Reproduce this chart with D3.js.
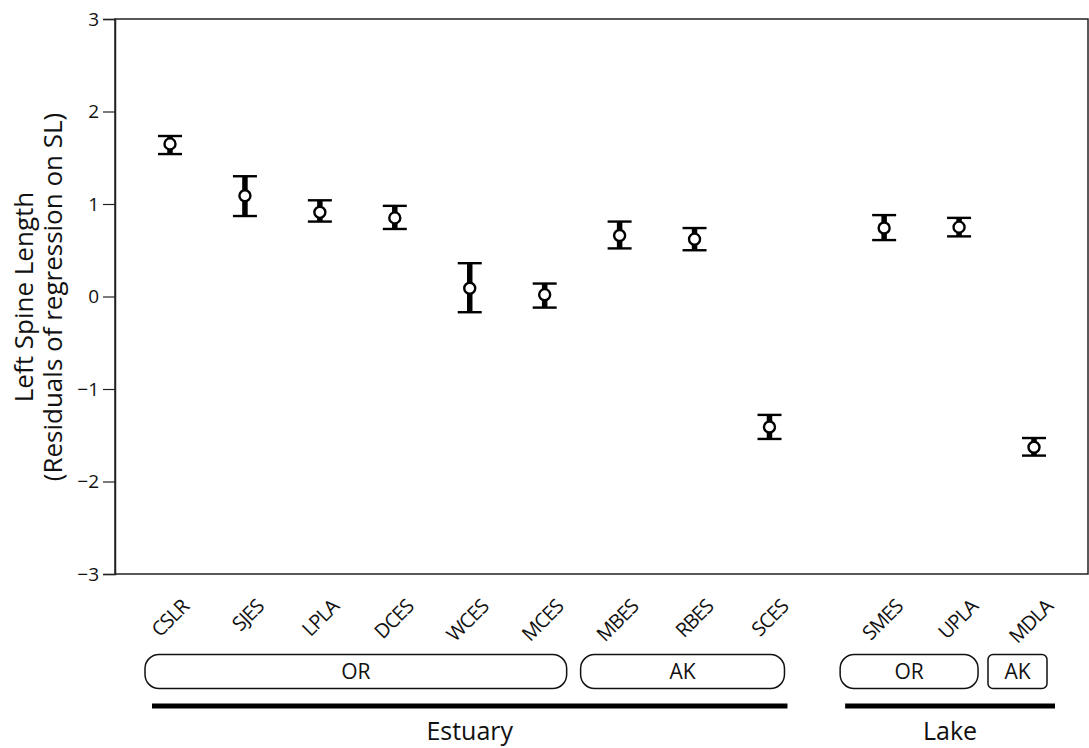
<!DOCTYPE html>
<html><head><meta charset="utf-8">
<script src="https://cdn.jsdelivr.net/npm/d3@7"></script>
<style>body{margin:0;background:#fff}svg{display:block}text{font-family:"Open Sans","DejaVu Sans",sans-serif;fill:#111}</style>
</head><body><svg id="c" width="1089" height="748"></svg>
<script>
const sites = ["CSLR","SJES","LPLA","DCES","WCES","MCES","MBES","RBES","SCES","SMES","UPLA","MDLA"];
const habitat = ["Estuary","Estuary","Estuary","Estuary","Estuary","Estuary","Estuary","Estuary","Estuary","Lake","Lake","Lake"];
const region = ["OR","OR","OR","OR","OR","OR","AK","AK","AK","OR","OR","AK"];
const means = [1.65,1.09,0.91,0.85,0.09,0.02,0.66,0.62,-1.41,0.74,0.75,-1.63];
const upper = [1.735,1.30,1.04,0.98,0.36,0.14,0.81,0.74,-1.28,0.88,0.85,-1.53];
const lower = [1.54,0.87,0.81,0.73,-0.17,-0.12,0.52,0.50,-1.54,0.61,0.65,-1.72];
const yTicks = [-3,-2,-1,0,1,2,3];

const svg = d3.select("#c");
const plot = {l:115, r:1088, t:19, b:574};
const gapSlots = 0.53;
const slots = sites.map((s,i)=> i + (habitat[i]==="Lake" ? gapSlots : 0));
const x = d3.scaleLinear().domain([0, d3.max(slots)]).range([170, 1034]);
const y = d3.scaleLinear().domain([-3,3]).range([plot.b, plot.t]);

// frame
svg.append("rect").attr("x",plot.l).attr("y",plot.t).attr("width",plot.r-plot.l).attr("height",plot.b-plot.t)
  .attr("fill","none").attr("stroke","#222").attr("stroke-width",1.5);

// y axis
const ax = svg.append("g").attr("transform",`translate(${plot.l},0)`)
  .call(d3.axisLeft(y).tickValues(yTicks).tickSize(12).tickPadding(4).tickFormat(d=> d<0 ? "\u2212"+Math.abs(d) : d));
ax.attr("font-size",19).attr("font-family","'Open Sans',sans-serif");
ax.select(".domain").attr("stroke","#222").attr("stroke-width",1.5);
ax.selectAll(".tick line").attr("stroke","#222").attr("stroke-width",1.2);
ax.selectAll(".tick text").style("font-size","19px").attr("fill","#111");

// y title
const yt = svg.append("text").attr("transform","translate(0,297) rotate(-90)").attr("text-anchor","middle").style("font-size","26px");
yt.append("tspan").attr("x",0).attr("y",33).text("Left Spine Length");
yt.append("tspan").attr("x",0).attr("y",62).text("(Residuals of regression on SL)");

// error bars
const g = svg.append("g");
const capW = 12;
sites.forEach((s,i)=>{
  const cx = x(slots[i]);
  g.append("line").attr("x1",cx).attr("x2",cx).attr("y1",y(upper[i])).attr("y2",y(lower[i]))
    .attr("stroke","#000").attr("stroke-width",5.5);
  [upper[i],lower[i]].forEach(v=>{
    g.append("line").attr("x1",cx-capW).attr("x2",cx+capW).attr("y1",y(v)).attr("y2",y(v))
      .attr("stroke","#000").attr("stroke-width",2.4);
  });
  g.append("circle").attr("cx",cx).attr("cy",y(means[i])).attr("r",5.5)
    .attr("fill","#fff").attr("stroke","#000").attr("stroke-width",2.4);
  svg.append("text").attr("transform",`translate(${cx+20},${608}) rotate(-45)`).attr("text-anchor","end")
    .style("font-size","20px").style("letter-spacing","-1px").text(s);
});

// region boxes: consecutive runs of same habitat+region
const boxPad = [[25,22],[39,15],[44,19],[46,13]];
const runs = [];
sites.forEach((s,i)=>{
  const key = habitat[i]+"|"+region[i];
  if(runs.length && runs[runs.length-1].key===key) runs[runs.length-1].end=i;
  else runs.push({key, region:region[i], start:i, end:i});
});
runs.forEach((r,k)=>{
  const x0 = x(slots[r.start]) - boxPad[k][0], x1 = x(slots[r.end]) + boxPad[k][1];
  const rad = r.start===r.end ? 5 : 14;
  svg.append("rect").attr("x",x0).attr("y",654.5).attr("width",x1-x0).attr("height",34)
    .attr("rx",rad).attr("ry",rad).attr("fill","none").attr("stroke","#111").attr("stroke-width",1.5);
  svg.append("text").attr("x",(x0+x1)/2).attr("y",679).attr("text-anchor","middle").style("font-size","21px").text(r.region);
});

// habitat lines
const linePad = {Estuary:[18,18], Lake:[39,21]};
const habs = Array.from(new Set(habitat));
habs.forEach(h=>{
  const idx = sites.map((s,i)=>i).filter(i=>habitat[i]===h);
  const x0 = x(slots[idx[0]]) - linePad[h][0], x1 = x(slots[idx[idx.length-1]]) + linePad[h][1];
  svg.append("line").attr("x1",x0).attr("x2",x1).attr("y1",706).attr("y2",706).attr("stroke","#000").attr("stroke-width",5);
  svg.append("text").attr("x",(x0+x1)/2).attr("y",740).attr("text-anchor","middle").style("font-size","25px").text(h);
});
</script></body></html>
